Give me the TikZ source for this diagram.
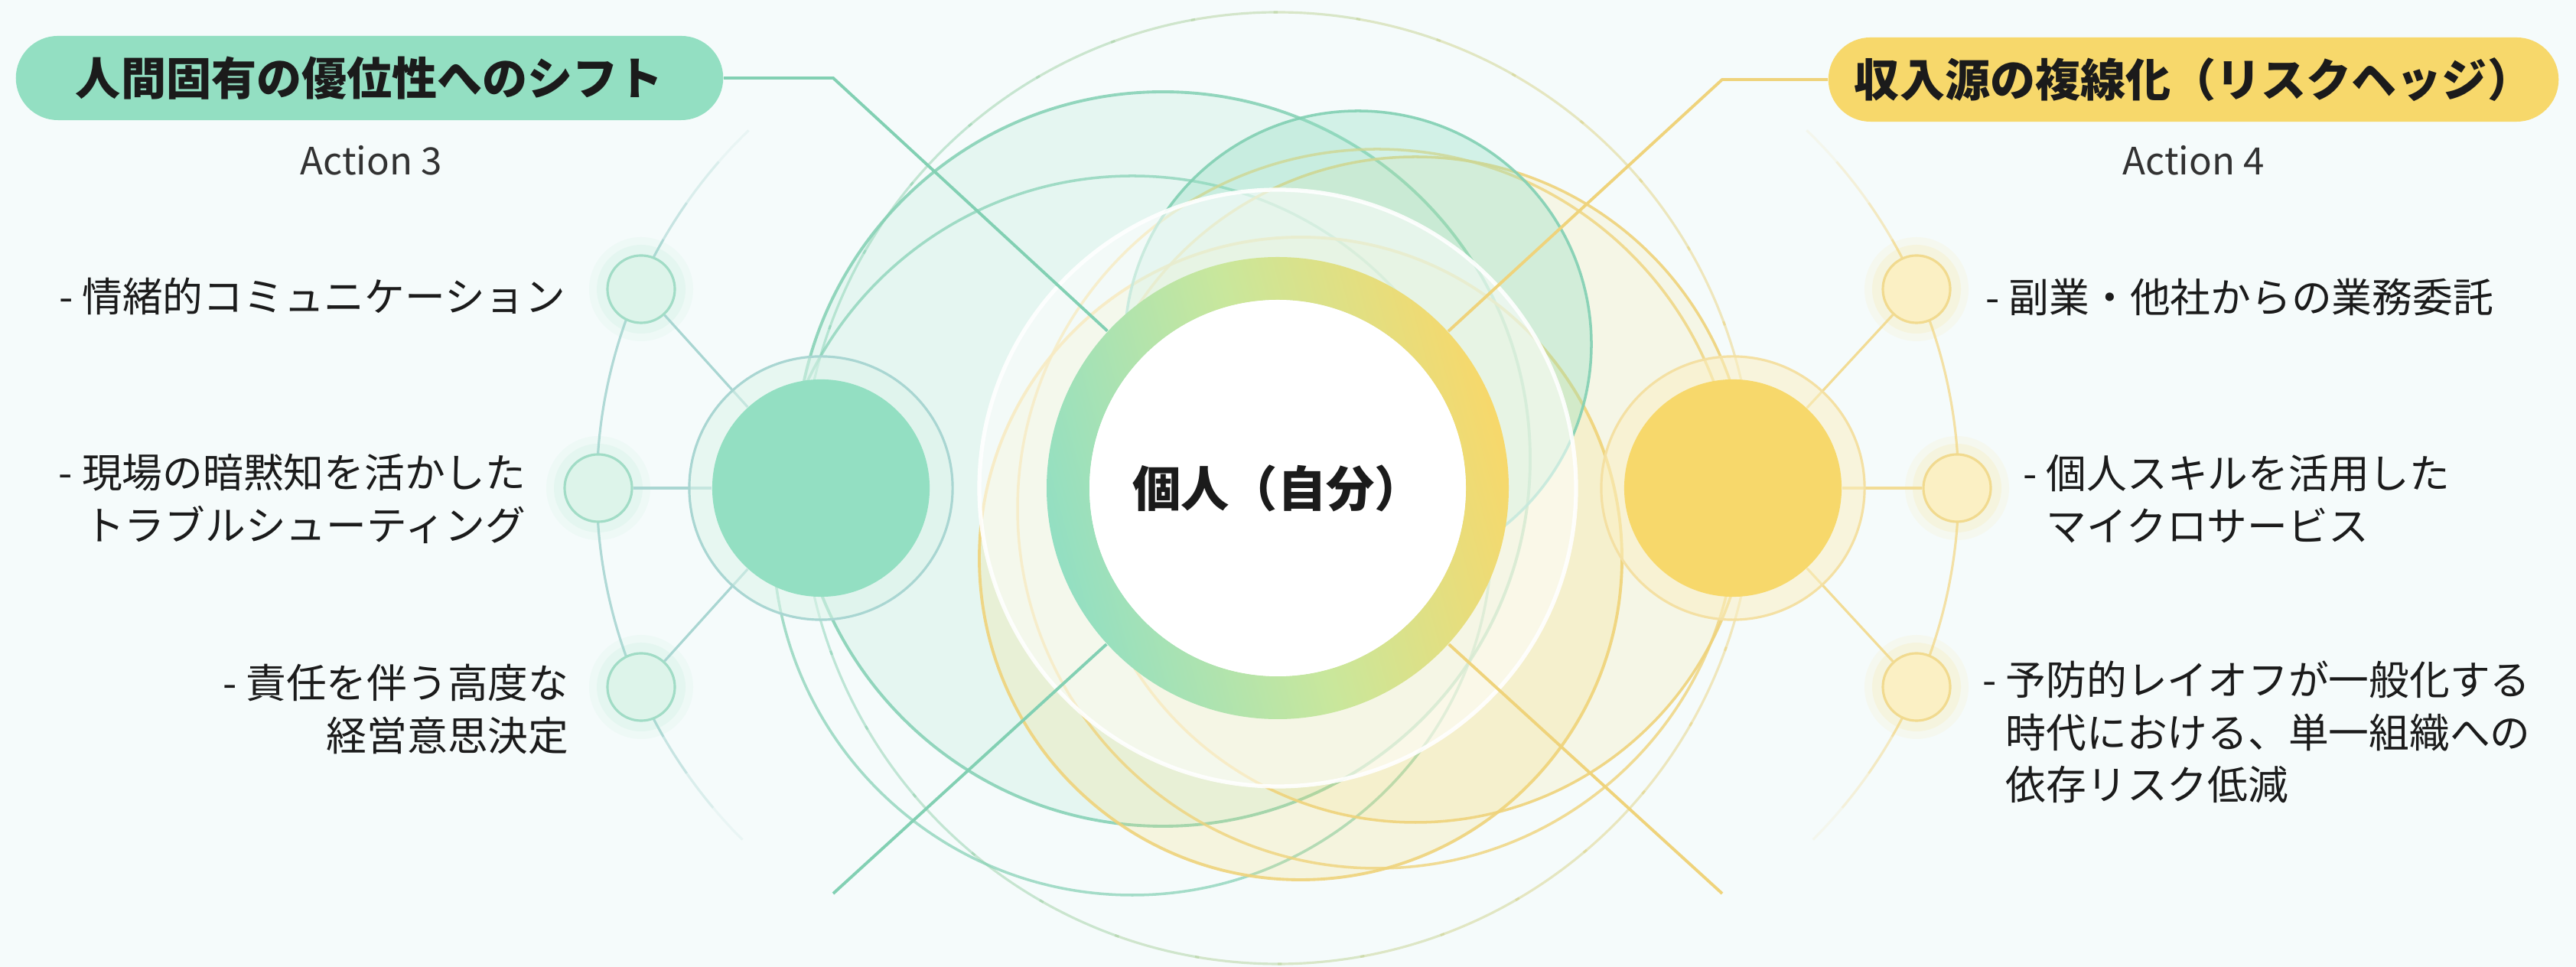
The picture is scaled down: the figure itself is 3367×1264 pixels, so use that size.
\documentclass[tikz,border=0pt]{standalone}
\usepackage{fontspec}
\setmainfont{Noto Sans CJK JP}
\usetikzlibrary{calc}
\definecolor{bgc}{HTML}{F5FBFB}
\definecolor{mint}{HTML}{93DFC2}
\definecolor{mintline}{HTML}{82D0B3}
\definecolor{mintlt}{HTML}{DDF4EA}
\definecolor{spoke}{HTML}{A9D6D2}
\definecolor{yel}{HTML}{F7D86B}
\definecolor{yelline}{HTML}{EFD37B}
\definecolor{yellt}{HTML}{FBF0C4}
\definecolor{lime}{HTML}{C9E79C}
\definecolor{ink}{HTML}{1B1B1B}
\pgfdeclarelayer{deco}
\pgfdeclarelayer{lines}
\pgfsetlayers{deco,lines,main}
\begin{document}
\begin{tikzpicture}[x=0.01cm,y=0.01cm,
  pillbox/.style={rounded corners=0.55cm, minimum height=1.1cm, inner sep=0pt,
    font=\fontsize{16.8}{19}\selectfont\bfseries, text=ink},
  actionlbl/.style={font=\fontsize{14}{17}\selectfont, text=ink!90},
  itemtxt/.style={font=\fontsize{15}{19.5}\selectfont, text=ink, inner sep=0pt},
  gsmall/.style={circle, minimum size=0.88cm, inner sep=0pt, fill=mintlt, draw=mintline!75, line width=0.9pt},
  ysmall/.style={circle, minimum size=0.88cm, inner sep=0pt, fill=yellt, draw=yelline!85, line width=0.9pt},
  gbig/.style={circle, minimum size=2.84cm, inner sep=0pt, fill=mint},
  ybig/.style={circle, minimum size=2.84cm, inner sep=0pt, fill=yel},
  gbigring/.style={circle, minimum size=3.44cm, inner sep=0pt, draw=spoke, line width=0.9pt, fill=mintlt, fill opacity=0.55},
  ybigring/.style={circle, minimum size=3.44cm, inner sep=0pt, draw=yelline!70, line width=0.9pt, fill=yellt, fill opacity=0.55},
  centre/.style={circle, minimum size=6.04cm, inner sep=0pt, font=\fontsize{18}{21}\selectfont\bfseries, text=ink},
  gline/.style={draw=mintline, line width=1.1pt},
  yline/.style={draw=yelline, line width=1.1pt},
  gspoke/.style={draw=spoke, line width=0.9pt},
  yspoke/.style={draw=yelline!80, line width=0.9pt}
]
\useasboundingbox (0,0) rectangle (3367,1264);

% ---------- main layer: nodes ----------
\node[gbigring] (BGo) at (1073,626) {};
\node[gbig] (BG) at (1073,626) {};
\node[ybigring] (BYo) at (2265,626) {};
\node[ybig] (BY) at (2265,626) {};
\node[gsmall] (L1) at (838,886) {};
\node[gsmall] (L2) at (782,626) {};
\node[gsmall] (L3) at (838,366) {};
\node[ysmall] (R1) at (2505,886) {};
\node[ysmall] (R2) at (2558,626) {};
\node[ysmall] (R3) at (2505,366) {};
% centre ring
\shade[even odd rule, left color=mint, right color=yel, middle color=lime, shading angle=105]
  (1670,626) circle (302) (1670,626) circle (246);
\fill[white] (1670,626) circle (246);
\node[centre] (C) at (1670,626) {個人（自分）};

% pills
\node[pillbox, fill=mint, minimum width=9.24cm] (P1) at (483,1162) {人間固有の優位性へのシフト};
\node[pillbox, fill=yel, minimum width=9.54cm] (P2) at (2867,1160) {収入源の複線化（リスクヘッジ）};
\node[actionlbl] (A3) at (485,1054) {Action 3};
\node[actionlbl] (A4) at (2867,1054) {Action 4};

% item texts
\node[itemtxt, anchor=east] (I1) at (740,877) {- 情緒的コミュニケーション};
\node[itemtxt, anchor=east, align=right] (I2) at (688,612) {- 現場の暗黙知を活かした\\トラブルシューティング};
\node[itemtxt, anchor=east, align=right] (I3) at (744,337) {- 責任を伴う高度な\\経営意思決定};
\node[itemtxt, anchor=west] (J1) at (2595,876) {- 副業・他社からの業務委託};
\node[itemtxt, anchor=west, align=left] (J2) at (2644,612) {- 個人スキルを活用した\\\hphantom{- }マイクロサービス};
\node[itemtxt, anchor=west, align=left] (J3) at (2591,307) {- 予防的レイオフが一般化する\\\hphantom{- }時代における、単一組織への\\\hphantom{- }依存リスク低減};

\coordinate (TL) at (1089,1162);
\coordinate (BL) at (1089,96);
\coordinate (TR) at (2251,1160);
\coordinate (BR) at (2251,96);

% ---------- lines layer ----------
\begin{pgfonlayer}{lines}
  \foreach \n in {L1,L2,L3} {
    \fill[mint, opacity=0.07] (\n) circle (68);
    \fill[mint, opacity=0.10] (\n) circle (58);
  }
  \foreach \n in {R1,R2,R3} {
    \fill[yel, opacity=0.08] (\n) circle (68);
    \fill[yel, opacity=0.12] (\n) circle (58);
  }
  \draw[gspoke] (BG) -- (L1);
  \draw[gspoke] (BG) -- (L2);
  \draw[gspoke] (BG) -- (L3);
  \draw[yspoke] (BY) -- (R1);
  \draw[yspoke] (BY) -- (R2);
  \draw[yspoke] (BY) -- (R3);
  \draw[gline] (P1.east) -- (TL) -- (C);
  \draw[gline] (BL) -- (C);
  \draw[yline] (P2.west) -- (TR) -- (C);
  \draw[yline] (BR) -- (C);
\end{pgfonlayer}

% ---------- decoration layer ----------
\begin{pgfonlayer}{deco}
  \fill[bgc] (0,0) rectangle (3367,1264);
  \foreach \s/\e/\o in {134/139/0.15, 139/145/0.35, 145/150/0.6, 150/210/0.9, 210/215/0.6, 215/220/0.35, 220/225/0.15} {
    \draw[spoke, line width=0.9pt, opacity=\o] ($(1430,626)+(\s:650)$) arc[start angle=\s, end angle=\e, radius=650];
  }
  \foreach \s/\e/\o in {-45/-40/0.15, -40/-35/0.35, -35/-30/0.6, -30/30/0.9, 30/35/0.6, 35/41/0.35, 41/46/0.15} {
    \draw[yelline!75, line width=0.9pt, opacity=\o] ($(1910,626)+(\s:650)$) arc[start angle=\s, end angle=\e, radius=650];
  }
  \foreach \i in {0,...,35} {
    \pgfmathsetmacro{\a}{\i*10}
    \pgfmathsetmacro{\b}{\i*10+10.5}
    \pgfmathtruncatemacro{\p}{50+50*cos(\i*10+5)}
    \draw[yelline!\p!mintline, line width=0.9pt, opacity=0.5] ($(1670,626)+(\a:622)$) arc[start angle=\a, end angle=\b, radius=622];
  }
  \filldraw[fill=mint, fill opacity=0.16, draw=mintline, draw opacity=0.85, line width=1.1pt] (1520,664) circle (480);
  \draw[mintline, opacity=0.7, line width=1pt] (1480,564) circle (470);
  \filldraw[fill=yel, fill opacity=0.20, draw=yelline, draw opacity=0.9, line width=1.1pt] (1700,534) circle (420);
  \filldraw[fill=yel, fill opacity=0.14, draw=yelline, draw opacity=0.9, line width=1pt] (1850,624) circle (435);
  \draw[yelline, opacity=0.8, line width=1pt] (1800,599) circle (470);
  \filldraw[fill=mint, fill opacity=0.35, draw=mintline, draw opacity=0.9, line width=1pt] (1775,814) circle (305);
  \filldraw[fill=white, fill opacity=0.55, draw=white, draw opacity=0.9, line width=1.5pt] (1670,626) circle (390);
\end{pgfonlayer}
\end{tikzpicture}
\end{document}
